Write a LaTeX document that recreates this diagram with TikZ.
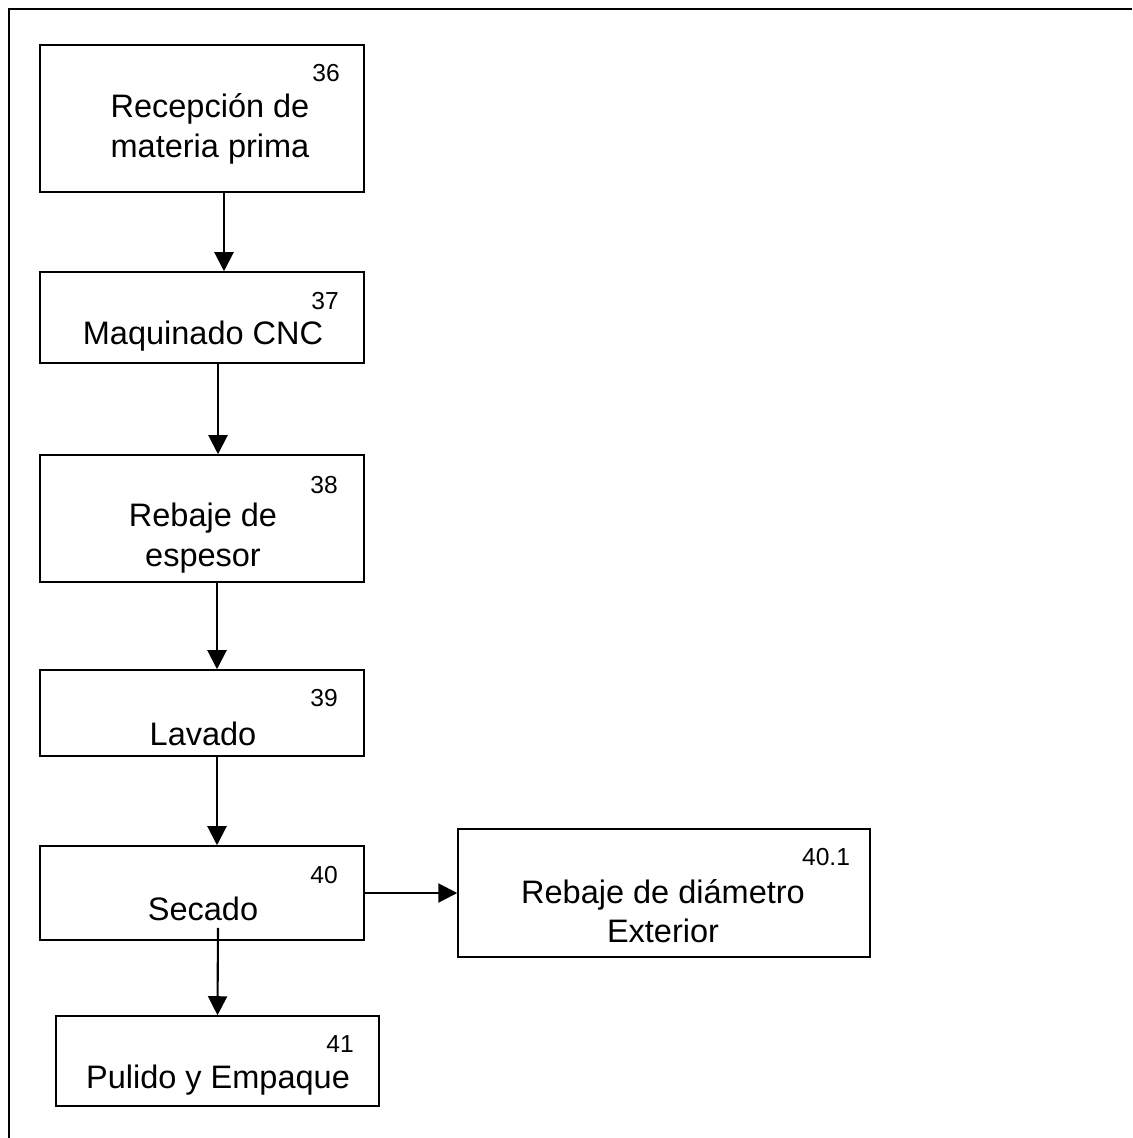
\documentclass[tikz,border=0pt]{standalone}
\usepackage{fontspec}
\setmainfont{Liberation Sans}
\usepackage{tikz}
\usetikzlibrary{positioning, arrows.meta}
\tikzset{
	>={Triangle[length=3.8mm, width=3.8mm]},
	% caja del proceso
	caja/.style={draw, line width=0.9pt, rectangle, inner sep=0pt},
	% texto de la operacion
	texto/.style={align=center, inner sep=0pt, font=\fontsize{18.5}{22.5}\selectfont},
	% numero de la operacion
	numero/.style={inner sep=0pt, font=\fontsize{14}{16}\selectfont},
	% flecha entre operaciones
	flecha/.style={->, line width=1.2pt},
}

\begin{document}
\begin{tikzpicture}[x=0.02cm, y=-0.02cm]
    \useasboundingbox (0,0) rectangle (1132,1138);
    % marco
    \draw[line width=1.5pt] (9,1138) -- (9,9) -- (1132,9);
    % cajas
    \node[caja, minimum width=6.48cm, minimum height=2.94cm] (op36) at (202,118.5) {};
    \node[caja, minimum width=6.48cm, minimum height=1.82cm] (op37) at (202,317.5) {};
    \node[caja, minimum width=6.48cm, minimum height=2.54cm] (op38) at (202,518.5) {};
    \node[caja, minimum width=6.48cm, minimum height=1.72cm] (op39) at (202,713) {};
    \node[caja, minimum width=6.48cm, minimum height=1.88cm] (op40) at (202,893) {};
    \node[caja, minimum width=6.46cm, minimum height=1.80cm] (op41) at (217.5,1061) {};
    \node[caja, minimum width=8.24cm, minimum height=2.56cm] (op401) at (664,893) {};
    % textos
    \node[texto] (t36) at (210,129) {Recepción de\\materia prima};
    \node[texto] (t37) at (203,336) {Maquinado CNC};
    \node[texto] (t38) at (203,538) {Rebaje de\\espesor};
    \node[texto] (t39) at (203,734) {Lavado};
    \node[texto] (t40) at (203,909) {Secado};
    \node[texto] (t41) at (218,1080) {Pulido y Empaque};
    \node[texto] (t401) at (663,911) {Rebaje de diámetro\\Exterior};
    % numeros
    \node[numero] (n36) at (326,73) {36};
    \node[numero] (n37) at (325,301) {37};
    \node[numero] (n38) at (324,485) {38};
    \node[numero] (n39) at (324,698) {39};
    \node[numero] (n40) at (324,875) {40};
    \node[numero] (n41) at (340,1044) {41};
    \node[numero] (n401) at (826,857) {40.1};
    % flechas
    \draw[flecha] ([xshift=0.44cm]op36.south) -- ([xshift=0.44cm]op37.north);
    \draw[flecha] ([xshift=0.32cm]op37.south) -- ([xshift=0.32cm]op38.north);
    \draw[flecha] ([xshift=0.3cm]op38.south) -- ([xshift=0.3cm]op39.north);
    \draw[flecha] ([xshift=0.3cm]op39.south) -- ([xshift=0.3cm]op40.north);
    \draw[flecha] ([xshift=0.32cm, yshift=0.26cm]op40.south) -- (op41.north);
    \draw[flecha] (op40.east) -- (op401.west);
\end{tikzpicture}
\end{document}
